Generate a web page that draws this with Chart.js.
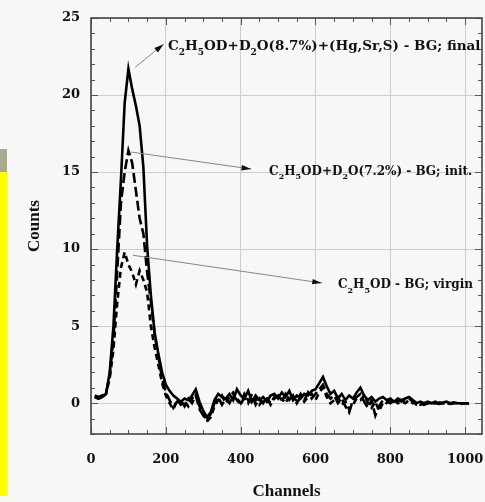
<!DOCTYPE html>
<html>
<head>
<meta charset="utf-8">
<script src="https://cdn.jsdelivr.net/npm/chart.js@4.4.1/dist/chart.umd.min.js"></script>
<style>
  html, body { margin: 0; padding: 0; background: #f7f7f7; }
  #wrap { width: 485px; height: 502px; position: relative; }
</style>
</head>
<body>
<div id="wrap"><canvas id="spectrumChart" width="485" height="502"></canvas></div>
<script>
// Channel numbers (x values shared by all three spectra)
const channels = [
  10, 20, 30, 40, 50, 60, 70, 80, 90, 100,
  110, 120, 130, 140, 150, 160, 170, 180, 190, 200,
  210, 220, 230, 240, 250, 260, 270, 280, 290, 300,
  310, 320, 330, 340, 350, 360, 370, 380, 390, 400,
  410, 420, 430, 440, 450, 460, 470, 480, 490, 500,
  510, 520, 530, 540, 550, 560, 570, 580, 590, 600,
  610, 620, 630, 640, 650, 660, 670, 680, 690, 700,
  710, 720, 730, 740, 750, 760, 770, 780, 790, 800,
  810, 820, 830, 840, 850, 860, 870, 880, 890, 900,
  910, 920, 930, 940, 950, 960, 970, 980, 990, 1000,
  1010
];

// C2H5OD+D2O(8.7%)+(Hg,Sr,S) - BG; final  (solid)
const finalCounts = [
  0.4, 0.3, 0.4, 0.6, 2.0, 5.0, 10.0, 14.5, 19.5, 21.7,
  20.4, 19.3, 18.0, 15.3, 10.2, 7.0, 4.6, 3.2, 2.0, 1.2,
  0.8, 0.5, 0.3, 0.1, 0.3, 0.2, 0.5, 0.9, 0.1, -0.5,
  -0.9, -0.6, 0.2, 0.6, 0.4, 0.3, 0.6, 0.2, 0.9, 0.5,
  0.3, 0.8, 0.1, 0.5, 0.2, 0.4, 0.1, 0.5, 0.6, 0.3,
  0.7, 0.4, 0.8, 0.2, 0.5, 0.3, 0.6, 0.5, 0.8, 0.9,
  1.3, 1.7, 1.1, 0.6, 0.8, 0.3, 0.6, 0.2, 0.5, 0.3,
  0.7, 1.0, 0.5, 0.2, 0.4, 0.1, 0.3, 0.4, 0.2, 0.3,
  0.1, 0.3, 0.2, 0.3, 0.4, 0.2, 0.0, 0.1, 0.0, 0.1,
  0.0, 0.1, 0.0, 0.05, 0.1, 0.0, 0.05, 0.0, 0.0, 0.0,
  -0.05
];

// C2H5OD+D2O(7.2%) - BG; init.  (long dashes)
const initCounts = [
  0.5, 0.4, 0.5, 0.6, 1.8, 4.2, 8.5, 13.0, 15.0, 16.4,
  15.6, 13.8, 12.0, 11.0, 8.5, 6.6, 4.5, 3.0, 1.6, 0.7,
  0.2, -0.3, 0.1, 0.2, -0.2, 0.3, 0.0, 0.5, -0.4, -0.8,
  -1.1, -0.7, 0.0, 0.4, -0.1, 0.3, 0.0, 0.5, 0.2, -0.1,
  0.4, 0.0, 0.6, -0.1, 0.3, 0.0, 0.4, -0.1, 0.3, 0.5,
  0.1, 0.6, 0.2, 0.5, 0.0, 0.4, 0.2, 0.7, 0.3, 0.6,
  0.9, 1.2, 0.6, 0.3, 0.5, 0.0, 0.3, -0.2, -0.6, 0.2,
  0.4, 0.6, 0.1, -0.3, 0.2, -0.8, -0.2, 0.2, 0.0, 0.2,
  0.0, 0.2, 0.1, 0.2, 0.3, 0.1, -0.1, 0.0, -0.1, 0.0,
  -0.05, 0.0, -0.05, 0.0, 0.0, -0.05, 0.0, 0.0, -0.05, 0.0,
  0.0
];

// C2H5OD - BG; virgin  (short dashes)
const virginCounts = [
  0.4, 0.3, 0.4, 0.6, 1.6, 3.5, 6.5, 8.8, 9.8, 9.0,
  8.5, 7.7, 8.6, 8.0, 7.2, 5.0, 3.6, 2.5, 1.3, 0.5,
  0.0, -0.4, 0.2, -0.1, 0.1, -0.2, 0.3, 0.6, -0.2, -0.7,
  -1.2, -0.9, -0.2, 0.2, 0.5, 0.0, 0.4, 0.7, 0.3, 0.0,
  0.6, 0.2, 0.0, 0.3, -0.1, 0.2, 0.3, 0.0, 0.4, 0.2,
  0.3, 0.0, 0.5, 0.3, 0.2, 0.6, 0.1, 0.4, 0.6, 0.2,
  0.7, 1.0, 0.4, 0.0, 0.2, 0.4, -0.1, 0.1, -0.4, -0.1,
  0.3, 0.2, 0.5, 0.0, -0.3, 0.1, -0.5, 0.0, 0.1, 0.0,
  0.2, 0.0, 0.1, 0.0, 0.2, 0.0, 0.1, -0.1, 0.0, 0.05,
  0.0, 0.0, 0.05, 0.0, -0.05, 0.0, 0.0, 0.0, 0.0, -0.05,
  0.0
];

const xTickValues = [0, 200, 400, 600, 800, 1000];
const yTickValues = [0, 5, 10, 15, 20, 25];

// Label texts, split into [text, isSubscript] pieces
const labelFinal = [['C'], ['2', 1], ['H'], ['5', 1], ['OD+D'], ['2', 1], ['O(8.7%)+(Hg,Sr,S) - BG; final']];
const labelInit = [['C'], ['2', 1], ['H'], ['5', 1], ['OD+D'], ['2', 1], ['O(7.2%) - BG; init.']];
const labelVirgin = [['C'], ['2', 1], ['H'], ['5', 1], ['OD - BG; virgin']];

// Arrow annotations, positioned in data units
const notes = [
  { from: [118, 21.8], to: [194, 23.3], at: [206, 22.9], text: labelFinal, size: 13.5 },
  { from: [107, 16.3], to: [428, 15.2], at: [476, 14.8], text: labelInit, size: 12 },
  { from: [112, 9.6], to: [617, 7.8], at: [660, 7.45], text: labelVirgin, size: 12 }
];

const serif = '"DejaVu Serif", serif';

function drawLabel(ctx, parts, x, y, size) {
  let cx = x;
  parts.forEach(p => {
    const sub = p[1];
    const fs = sub ? Math.round(size * 0.65) : size;
    ctx.font = `bold ${fs}px ${serif}`;
    ctx.fillText(p[0], cx, sub ? y + size * 0.35 : y);
    cx += ctx.measureText(p[0]).width;
  });
}

function drawArrow(ctx, x1, y1, x2, y2) {
  ctx.beginPath();
  ctx.moveTo(x1, y1);
  ctx.lineTo(x2, y2);
  ctx.stroke();
  const a = Math.atan2(y2 - y1, x2 - x1);
  const len = 10;
  ctx.beginPath();
  ctx.moveTo(x2, y2);
  ctx.lineTo(x2 - len * Math.cos(a - 0.28), y2 - len * Math.sin(a - 0.28));
  ctx.lineTo(x2 - len * Math.cos(a + 0.28), y2 - len * Math.sin(a + 0.28));
  ctx.closePath();
  ctx.fill();
}

// page background and the coloured strips on the left edge
const backgroundPlugin = {
  id: 'pageBackground',
  beforeDraw(chart) {
    const ctx = chart.ctx;
    ctx.save();
    ctx.fillStyle = '#f7f7f7';
    ctx.fillRect(0, 0, chart.width, chart.height);
    ctx.fillStyle = '#a9a891';
    ctx.fillRect(0, 149, 7, 23);
    ctx.fillStyle = '#ffff00';
    ctx.fillRect(0, 172, 7, 324);
    ctx.restore();
  }
};

// inward tick marks and the plot frame
const frameTicksPlugin = {
  id: 'frameTicks',
  afterDatasetsDraw(chart) {
    const { ctx, chartArea: area, scales: { x, y } } = chart;
    ctx.save();
    ctx.strokeStyle = '#555';
    ctx.lineWidth = 1;
    ctx.beginPath();
    for (let v = 0; v <= 1040; v += 50) {
      const px = Math.round(x.getPixelForValue(v)) + 0.5;
      const l = v % 200 === 0 ? 7 : 4;
      ctx.moveTo(px, area.bottom); ctx.lineTo(px, area.bottom - l);
      ctx.moveTo(px, area.top); ctx.lineTo(px, area.top + l);
    }
    for (let v = -2; v <= 25; v += 1) {
      const py = Math.round(y.getPixelForValue(v)) + 0.5;
      const l = v % 5 === 0 ? 7 : 4;
      ctx.moveTo(area.left, py); ctx.lineTo(area.left + l, py);
      ctx.moveTo(area.right, py); ctx.lineTo(area.right - l, py);
    }
    ctx.stroke();
    ctx.lineWidth = 1.6;
    ctx.strokeStyle = '#444';
    ctx.strokeRect(area.left, area.top, area.right - area.left, area.bottom - area.top);
    ctx.restore();
  }
};

const annotationPlugin = {
  id: 'arrowNotes',
  afterDraw(chart) {
    const { ctx, scales: { x, y } } = chart;
    ctx.save();
    ctx.strokeStyle = '#888';
    ctx.fillStyle = '#111';
    ctx.lineWidth = 1;
    notes.forEach(n => {
      drawArrow(ctx,
        x.getPixelForValue(n.from[0]), y.getPixelForValue(n.from[1]),
        x.getPixelForValue(n.to[0]), y.getPixelForValue(n.to[1]));
      ctx.textBaseline = 'alphabetic';
      drawLabel(ctx, n.text, x.getPixelForValue(n.at[0]), y.getPixelForValue(n.at[1]), n.size);
    });
    ctx.restore();
  }
};

const ctx = document.getElementById('spectrumChart').getContext('2d');
const spectrumChart = new Chart(ctx, {
  type: 'line',
  data: {
    labels: channels,
    datasets: [
      {
        label: 'final',
        data: finalCounts,
        borderColor: '#000',
        borderWidth: 2.6,
        pointRadius: 0,
        tension: 0
      },
      {
        label: 'init',
        data: initCounts,
        borderColor: '#000',
        borderWidth: 2.6,
        borderDash: [10, 4],
        pointRadius: 0,
        tension: 0
      },
      {
        label: 'virgin',
        data: virginCounts,
        borderColor: '#000',
        borderWidth: 2.6,
        borderDash: [6, 4],
        pointRadius: 0,
        tension: 0
      }
    ]
  },
  options: {
    responsive: false,
    animation: false,
    devicePixelRatio: 1,
    layout: { autoPadding: false, padding: { left: 0, right: 3, top: 18, bottom: 0 } },
    plugins: {
      legend: { display: false },
      tooltip: { enabled: false }
    },
    scales: {
      x: {
        type: 'linear',
        min: 0,
        max: 1045,
        afterFit(scale) {
          scale.height = 68;
          scale.paddingLeft = 0;
          scale.paddingRight = 0;
        },
        afterBuildTicks(scale) { scale.ticks = xTickValues.map(v => ({ value: v })); },
        grid: { color: '#cdcdcd', lineWidth: 1, drawTicks: false },
        border: { display: false },
        ticks: {
          padding: 18,
          color: '#111',
          font: { family: serif, weight: 'bold', size: 13 },
          maxRotation: 0,
          callback: v => String(v)
        },
        title: {
          display: true,
          text: 'Channels',
          color: '#111',
          font: { family: '"Liberation Serif", serif', weight: 'bold', size: 17 },
          padding: { top: 0, bottom: 0 }
        }
      },
      y: {
        type: 'linear',
        min: -2,
        max: 25,
        afterFit(scale) {
          scale.width = 91;
          scale.paddingTop = 0;
          scale.paddingBottom = 0;
        },
        afterBuildTicks(scale) { scale.ticks = yTickValues.map(v => ({ value: v })); },
        grid: { color: '#cdcdcd', lineWidth: 1, drawTicks: false },
        border: { display: false },
        ticks: {
          padding: 11,
          color: '#111',
          font: { family: serif, weight: 'bold', size: 13 },
          callback: v => String(v)
        },
        title: {
          display: true,
          text: 'Counts',
          color: '#111',
          font: { family: '"Liberation Serif", serif', weight: 'bold', size: 17 },
          padding: { top: 24, bottom: 0 }
        }
      }
    }
  },
  plugins: [backgroundPlugin, frameTicksPlugin, annotationPlugin]
});
</script>
</body>
</html>
